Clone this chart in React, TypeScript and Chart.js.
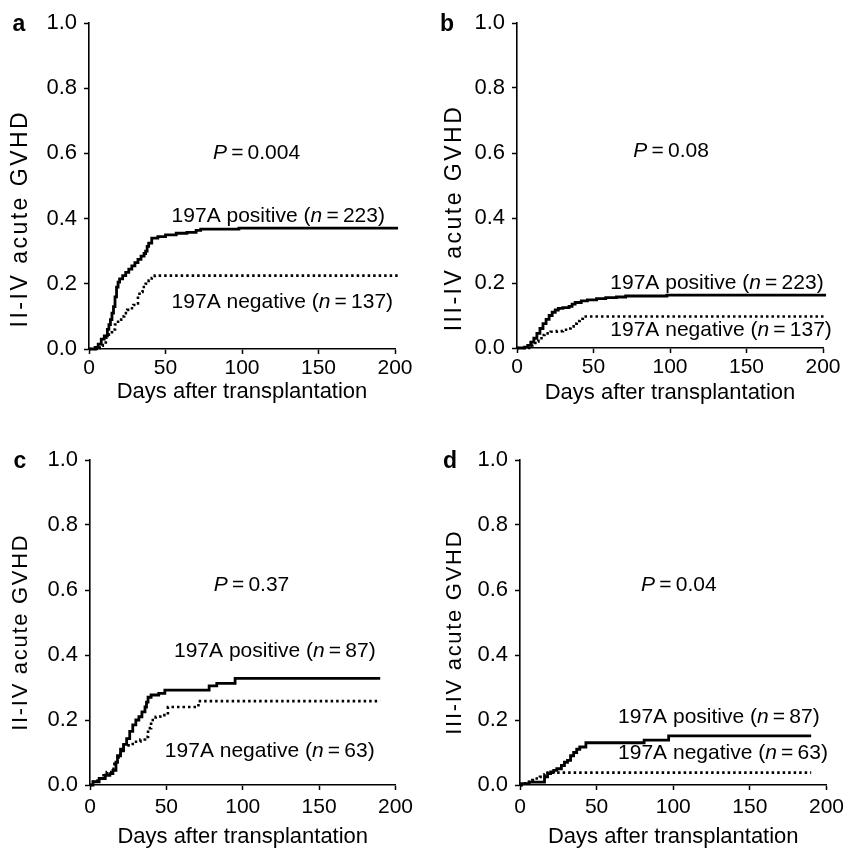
import React, { useEffect, useRef } from 'react';
import { Chart, registerables } from 'chart.js';

Chart.register(...registerables);

// ---------- axis ticks ----------
const xTickValues = [0, 50, 100, 150, 200];
const yTickValues = [0, 0.2, 0.4, 0.6, 0.8, 1.0];
const yTickLabels = ['0.0', '0.2', '0.4', '0.6', '0.8', '1.0'];
const xTitle = 'Days after transplantation';

// ---------- panel a: II-IV acute GVHD, all patients ----------
const aPosDays = [0, 4, 6, 8, 10, 12, 13, 14, 15, 16, 17, 18, 19, 20, 22, 24, 26, 28, 30, 32, 34, 36, 37, 38, 39, 41, 45, 50, 57, 64, 70, 73, 98, 202];
const aPosVals = [0, 0.005, 0.015, 0.03, 0.04, 0.06, 0.075, 0.09, 0.11, 0.13, 0.16, 0.19, 0.205, 0.215, 0.225, 0.235, 0.245, 0.255, 0.265, 0.275, 0.285, 0.293, 0.3, 0.315, 0.325, 0.34, 0.345, 0.35, 0.355, 0.358, 0.364, 0.368, 0.371, 0.371];
const aNegDays = [0, 5, 7, 9, 11, 13, 15, 17, 19, 21, 23, 25, 27, 29, 31, 32, 33, 35, 37, 39, 41, 43, 202];
const aNegVals = [0, 0.003, 0.01, 0.02, 0.035, 0.045, 0.06, 0.075, 0.09, 0.1, 0.11, 0.12, 0.125, 0.135, 0.14, 0.165, 0.175, 0.19, 0.2, 0.21, 0.218, 0.225, 0.225];

// ---------- panel b: III-IV acute GVHD, all patients ----------
const bPosDays = [0, 5, 7, 9, 11, 13, 15, 17, 19, 21, 23, 25, 27, 30, 34, 36, 38, 42, 46, 52, 58, 65, 71, 80, 98, 202];
const bPosVals = [0, 0.003, 0.008, 0.018, 0.03, 0.045, 0.06, 0.075, 0.088, 0.1, 0.11, 0.117, 0.122, 0.124, 0.128, 0.135, 0.14, 0.145, 0.148, 0.152, 0.155, 0.157, 0.16, 0.16, 0.163, 0.163];
const bNegDays = [0, 8, 10, 12, 14, 16, 18, 22, 26, 30, 33, 35, 37, 39, 41, 43, 202];
const bNegVals = [0, 0.003, 0.01, 0.02, 0.03, 0.04, 0.045, 0.05, 0.052, 0.056, 0.06, 0.066, 0.075, 0.083, 0.09, 0.097, 0.097];

// ---------- panel c: II-IV acute GVHD, subgroup ----------
const cPosDays = [0, 2, 6, 10, 13, 15, 17, 18, 20, 22, 24, 26, 28, 30, 32, 34, 36, 37, 38, 40, 45, 49, 76, 78, 83, 92, 95, 190];
const cPosVals = [0, 0.01, 0.02, 0.03, 0.035, 0.045, 0.07, 0.09, 0.11, 0.125, 0.143, 0.165, 0.185, 0.2, 0.21, 0.225, 0.24, 0.255, 0.27, 0.277, 0.282, 0.292, 0.292, 0.305, 0.313, 0.313, 0.328, 0.328];
const cNegDays = [0, 2, 5, 8, 11, 14, 16, 18, 20, 22, 28, 33, 36, 38, 40, 43, 46, 51, 70, 71, 190];
const cNegVals = [0, 0.01, 0.02, 0.03, 0.04, 0.05, 0.065, 0.085, 0.105, 0.122, 0.133, 0.14, 0.148, 0.175, 0.2, 0.21, 0.215, 0.24, 0.24, 0.258, 0.258];

// ---------- panel d: III-IV acute GVHD, subgroup ----------
const dPosDays = [0, 1, 6, 14, 16, 18, 20, 22, 24, 27, 29, 31, 33, 35, 37, 39, 43, 79, 81, 95, 97, 190];
const dPosVals = [0, 0.004, 0.009, 0.009, 0.025, 0.035, 0.04, 0.045, 0.05, 0.06, 0.07, 0.076, 0.09, 0.1, 0.11, 0.117, 0.13, 0.13, 0.138, 0.138, 0.151, 0.151];
const dNegDays = [0, 2, 5, 8, 10, 13, 16, 18, 190];
const dNegVals = [0, 0.005, 0.01, 0.015, 0.02, 0.025, 0.033, 0.038, 0.038];

// ---------- text labels ----------
const panelLetters = ['a', 'b', 'c', 'd'];
const yTitles = ['II-IV acute GVHD', 'III-IV acute GVHD', 'II-IV acute GVHD', 'III-IV acute GVHD'];
const pValues = ['0.004', '0.08', '0.37', '0.04'];
const posN = ['223', '223', '87', '87'];
const negN = ['137', '137', '63', '63'];
// label anchor positions in data units [day, value]
const pAnchor = [[81, 0.6], [76, 0.607], [81, 0.615], [79, 0.615]];
const posAnchor = [[54, 0.408], [61, 0.2], [55, 0.413], [64, 0.21]];
const negAnchor = [[54, 0.143], [61, 0.056], [49, 0.105], [64, 0.098]];

const FONT = "'Liberation Sans', Arial, Helvetica, sans-serif";

type Seg = [string, boolean];
interface Note { segs: Seg[]; day: number; value: number; }
interface Panel {
  idx: number;
  pos: [number[], number[]];
  neg: [number[], number[]];
  axisX: number; plotTop: number; plotW: number; plotH: number;
  xAxisH: number; xTickPad: number; xTitlePad: number;
  yTitleOff: number; yTitleCenter: number; yTitleSize: number; yTitleSpacing: number;
  padBottom: number;
}

const panels: Panel[] = [
  { idx: 0, pos: [aPosDays, aPosVals], neg: [aNegDays, aNegVals], axisX: 89, plotTop: 23, plotW: 306, plotH: 326, xAxisH: 62, xTickPad: 2, xTitlePad: 6, yTitleOff: 68, yTitleCenter: 0.4, yTitleSize: 23, yTitleSpacing: 2.5, padBottom: 4 },
  { idx: 1, pos: [bPosDays, bPosVals], neg: [bNegDays, bNegVals], axisX: 517, plotTop: 23, plotW: 306, plotH: 325, xAxisH: 62, xTickPad: 2, xTitlePad: 4, yTitleOff: 62, yTitleCenter: 0.4, yTitleSize: 23, yTitleSpacing: 2.5, padBottom: 4 },
  { idx: 2, pos: [cPosDays, cPosVals], neg: [cNegDays, cNegVals], axisX: 90, plotTop: 460, plotW: 306, plotH: 325, xAxisH: 70, xTickPad: 5, xTitlePad: 5, yTitleOff: 69, yTitleCenter: 0.47, yTitleSize: 22, yTitleSpacing: 1.7, padBottom: 0 },
  { idx: 3, pos: [dPosDays, dPosVals], neg: [dNegDays, dNegVals], axisX: 520, plotTop: 460, plotW: 307, plotH: 325, xAxisH: 70, xTickPad: 5, xTitlePad: 5, yTitleOff: 65, yTitleCenter: 0.47, yTitleSize: 22, yTitleSpacing: 1.7, padBottom: 0 },
];

const RIGHT_PAD = 22;

function notesFor(i: number): Note[] {
  return [
    { segs: [['P', true], ['\u2009=\u2009' + pValues[i], false]], day: pAnchor[i][0], value: pAnchor[i][1] },
    { segs: [['197A positive (', false], ['n', true], ['\u2009=\u2009' + posN[i] + ')', false]], day: posAnchor[i][0], value: posAnchor[i][1] },
    { segs: [['197A negative (', false], ['n', true], ['\u2009=\u2009' + negN[i] + ')', false]], day: negAnchor[i][0], value: negAnchor[i][1] },
  ];
}

const panelTextPlugin = {
  id: 'panelText',
  afterDraw(chart: any, _args: any, opts: any) {
    const p: Panel = opts.panel;
    if (!p) return;
    const { ctx, chartArea, scales } = chart;
    ctx.save();
    ctx.fillStyle = '#000';
    // panel letter
    ctx.font = `bold 23px ${FONT}`;
    ctx.textAlign = 'center';
    ctx.textBaseline = 'alphabetic';
    ctx.fillText(panelLetters[p.idx], chartArea.left - 70, chartArea.top + 8);
    // y-axis title
    ctx.save();
    ctx.translate(chartArea.left - p.yTitleOff, scales.y.getPixelForValue(p.yTitleCenter));
    ctx.rotate(-Math.PI / 2);
    ctx.font = `${p.yTitleSize}px ${FONT}`;
    (ctx as any).letterSpacing = p.yTitleSpacing + 'px';
    ctx.textAlign = 'center';
    ctx.textBaseline = 'middle';
    ctx.fillText(yTitles[p.idx], 0, 0);
    ctx.restore();
    // annotations
    ctx.textAlign = 'left';
    ctx.textBaseline = 'middle';
    for (const n of notesFor(p.idx)) {
      let x = scales.x.getPixelForValue(n.day);
      const y = scales.y.getPixelForValue(n.value);
      for (const [t, it] of n.segs) {
        ctx.font = `${it ? 'italic ' : ''}21px ${FONT}`;
        ctx.fillText(t, x, y);
        x += ctx.measureText(t).width;
      }
    }
    ctx.restore();
  },
};

function PanelChart({ p }: { p: Panel }) {
  const ref = useRef<HTMLCanvasElement | null>(null);
  const width = 89 + p.plotW + RIGHT_PAD;
  const height = 23 + p.plotH + p.xAxisH + p.padBottom;
  const left = p.axisX - 89;
  const top = p.plotTop - 23;

  useEffect(() => {
    if (!ref.current) return;
    const toPts = (d: number[], v: number[]) => d.map((x, i) => ({ x, y: v[i] }));
    const chart = new Chart(ref.current, {
      type: 'line',
      data: {
        datasets: [
          {
            label: '197A positive',
            data: toPts(p.pos[0], p.pos[1]),
            borderColor: '#000',
            borderWidth: 2.8,
            stepped: true,
            pointRadius: 0,
            fill: false,
            clip: 8,
            borderCapStyle: 'butt',
            borderJoinStyle: 'miter',
          },
          {
            label: '197A negative',
            data: toPts(p.neg[0], p.neg[1]),
            borderColor: '#000',
            borderWidth: 2.6,
            borderDash: [2.5, 3],
            stepped: true,
            pointRadius: 0,
            fill: false,
            clip: 8,
            borderCapStyle: 'butt',
          },
        ],
      },
      options: {
        animation: false,
        responsive: false,
        devicePixelRatio: 1,
        layout: { padding: { left: 0, top: 23, right: RIGHT_PAD, bottom: p.padBottom } },
        plugins: {
          legend: { display: false },
          tooltip: { enabled: false },
          panelText: { panel: p },
        } as any,
        scales: {
          x: {
            type: 'linear',
            min: 0,
            max: 200,
            afterBuildTicks: (s: any) => { s.ticks = xTickValues.map((v) => ({ value: v })); },
            afterFit: (s: any) => { s.height = p.xAxisH; },
            ticks: {
              color: '#000',
              font: { family: FONT, size: 21 },
              padding: p.xTickPad,
              maxRotation: 0,
              autoSkip: false,
              callback: (v: any) => String(v),
            },
            grid: { drawOnChartArea: false, drawTicks: true, tickLength: 5, tickColor: '#000', tickWidth: 1.5 },
            border: { display: true, color: '#000', width: 1.6 },
            title: {
              display: true,
              text: xTitle,
              color: '#000',
              font: { family: FONT, size: 22 },
              padding: { top: 0, bottom: p.xTitlePad },
            },
          },
          y: {
            type: 'linear',
            min: 0,
            max: 1,
            afterBuildTicks: (s: any) => { s.ticks = yTickValues.map((v) => ({ value: v })); },
            afterFit: (s: any) => { s.width = 89; },
            ticks: {
              color: '#000',
              font: { family: FONT, size: 22 },
              padding: 7,
              callback: (_v: any, i: number) => yTickLabels[i],
            },
            grid: { drawOnChartArea: false, drawTicks: true, tickLength: 5, tickColor: '#000', tickWidth: 1.5 },
            border: { display: true, color: '#000', width: 1.6 },
            title: { display: false },
          },
        },
      } as any,
      plugins: [panelTextPlugin as any],
    });
    return () => chart.destroy();
  }, [p]);

  return (
    <canvas
      ref={ref}
      width={width}
      height={height}
      style={{ position: 'absolute', left, top, width, height, display: 'block' }}
    />
  );
}

export default function App() {
  return (
    <div
      style={{
        position: 'absolute',
        left: 0,
        top: 0,
        width: 845,
        height: 849,
        overflow: 'hidden',
        background: '#fff',
      }}
    >
      {panels.map((p) => (
        <PanelChart key={p.idx} p={p} />
      ))}
    </div>
  );
}
